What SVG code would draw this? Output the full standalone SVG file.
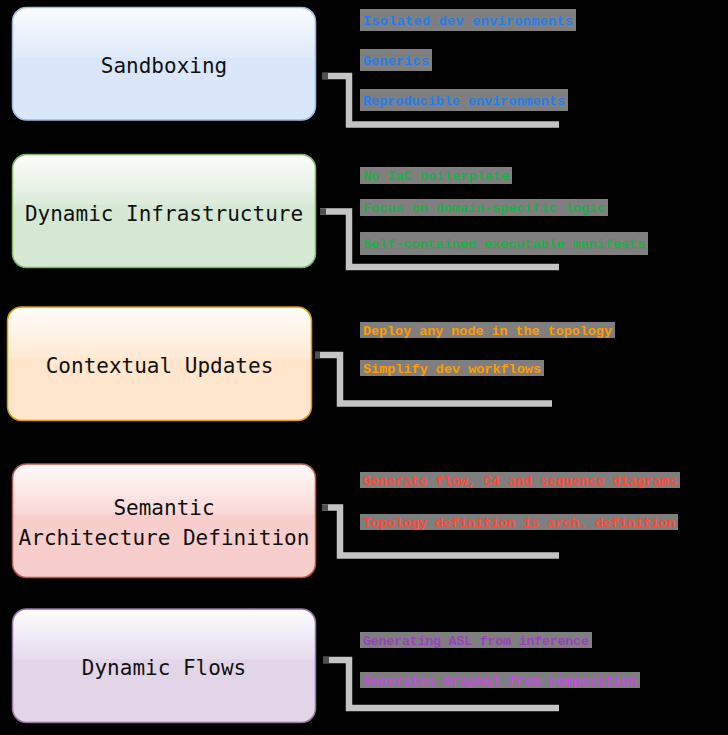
<svg xmlns="http://www.w3.org/2000/svg" width="728" height="735" viewBox="0 0 728 735">
<style>
.node text{font-family:"DejaVu Sans Mono","Liberation Mono",monospace;font-size:21px;fill:#111;text-anchor:middle}
.lbl rect{fill:#7f7f7f}
.lbl text{font-family:"Liberation Mono","DejaVu Sans Mono",monospace;font-size:13.5px;font-weight:bold}
.conn path{fill:none;stroke:#c4c4c4;stroke-width:6.5}
.conn rect{fill:#505050}
.b text{fill:#1f7ef0}.g text{fill:#1fae48}.o text{fill:#ff9c00}.r text{fill:#ff4a36}
</style>
<defs>
<linearGradient id="gb" x1="0" y1="0" x2="0" y2="1"><stop offset="0" stop-color="#fafcff"/><stop offset="0.44" stop-color="#e0eaf9"/><stop offset="0.45" stop-color="#dae7fa"/><stop offset="1" stop-color="#dae7fa"/></linearGradient>
<linearGradient id="gg" x1="0" y1="0" x2="0" y2="1"><stop offset="0" stop-color="#fbfdfb"/><stop offset="0.44" stop-color="#dcebda"/><stop offset="0.45" stop-color="#d5e8d4"/><stop offset="1" stop-color="#d5e8d4"/></linearGradient>
<linearGradient id="go" x1="0" y1="0" x2="0" y2="1"><stop offset="0" stop-color="#fffdfa"/><stop offset="0.44" stop-color="#ffebd6"/><stop offset="0.45" stop-color="#ffe6cc"/><stop offset="1" stop-color="#ffe6cc"/></linearGradient>
<linearGradient id="gr" x1="0" y1="0" x2="0" y2="1"><stop offset="0" stop-color="#fffafa"/><stop offset="0.44" stop-color="#f9d8d6"/><stop offset="0.45" stop-color="#f8cecc"/><stop offset="1" stop-color="#f8cecc"/></linearGradient>
<linearGradient id="gp" x1="0" y1="0" x2="0" y2="1"><stop offset="0" stop-color="#fdfcfe"/><stop offset="0.44" stop-color="#e6dcec"/><stop offset="0.45" stop-color="#e1d5e7"/><stop offset="1" stop-color="#e1d5e7"/></linearGradient>
</defs>
<rect width="728" height="735" fill="#000"/>

<g id="conn" class="conn">
<path d="M322,76 H349 V124.5 H559"/><rect x="322" y="72.8" width="6" height="6.5"/>
<path d="M320,211.5 H349 V267 H559"/><rect x="320" y="208.3" width="6" height="6.5"/>
<path d="M315,355 H340 V403.5 H552"/><rect x="315" y="351.8" width="5" height="6.5"/>
<path d="M322,507.5 H340 V555.5 H559"/><rect x="322" y="504.3" width="6" height="6.5"/>
<path d="M323,660 H349 V708 H559"/><rect x="323" y="656.8" width="6" height="6.5"/>
</g>

<g id="n1" class="node"><rect x="12.5" y="7.5" width="303" height="112.5" rx="14" fill="url(#gb)" stroke="#9fb9e3" stroke-width="1.5"/><text x="164" y="73">Sandboxing</text></g>
<g id="n2" class="node"><rect x="12.5" y="154.5" width="303" height="113" rx="14" fill="url(#gg)" stroke="#82b366" stroke-width="1.5"/><text x="164" y="221">Dynamic Infrastructure</text></g>
<g id="n3" class="node"><rect x="7.5" y="307" width="304" height="113.5" rx="14" fill="url(#go)" stroke="#d79b00" stroke-width="1.5"/><text x="159.5" y="373">Contextual Updates</text></g>
<g id="n4" class="node"><rect x="12.5" y="464" width="303" height="113.5" rx="14" fill="url(#gr)" stroke="#b85450" stroke-width="1.5"/><text x="164" y="515">Semantic</text><text x="164" y="545">Architecture Definition</text></g>
<g id="n5" class="node"><rect x="12.5" y="609" width="303" height="113.5" rx="14" fill="url(#gp)" stroke="#9673a6" stroke-width="1.5"/><text x="164" y="675">Dynamic Flows</text></g>

<g id="l1" class="lbl b">
<rect x="360" y="9" width="216" height="22"/><text x="363" y="24.5" textLength="210">Isolated dev environments</text>
<rect x="360" y="49" width="72" height="22"/><text x="363" y="64.5" textLength="66">Generics</text>
<rect x="360" y="89" width="208" height="22"/><text x="363" y="104.5" textLength="202">Reproducible environments</text>
</g>
<g id="l2" class="lbl g">
<rect x="360" y="167" width="152" height="17"/><text x="363" y="180" textLength="146">No IaC boilerplate</text>
<rect x="360" y="199" width="248" height="17"/><text x="363" y="212" textLength="242">Focus on domain-specific logic</text>
<rect x="360" y="232" width="288" height="23"/><text x="363" y="248" textLength="282">Self-contained executable manifests</text>
</g>
<g id="l3" class="lbl o">
<rect x="360" y="322" width="255" height="16"/><text x="363" y="334.5" textLength="249">Deploy any node in the topology</text>
<rect x="360" y="360" width="184" height="16"/><text x="363" y="372.5" textLength="178">Simplify dev workflows</text>
</g>
<g id="l4" class="lbl r">
<rect x="360" y="472" width="320" height="16"/><text x="363" y="484.5" textLength="314">Generate flow, C4 and sequence diagrams</text>
<rect x="360" y="514" width="318" height="16"/><text x="363" y="526.5" textLength="312">Topology definition is arch. definition</text>
</g>
<g id="l5" class="lbl">
<rect x="360" y="632" width="232" height="16"/><text x="363" y="644.5" fill="#9b3fc0" textLength="226">Generating ASL from inference</text>
<rect x="360" y="672" width="280" height="16"/><text x="363" y="684.5" fill="#c24ee0" textLength="274">Generates Graphql from composition</text>
</g>
</svg>
